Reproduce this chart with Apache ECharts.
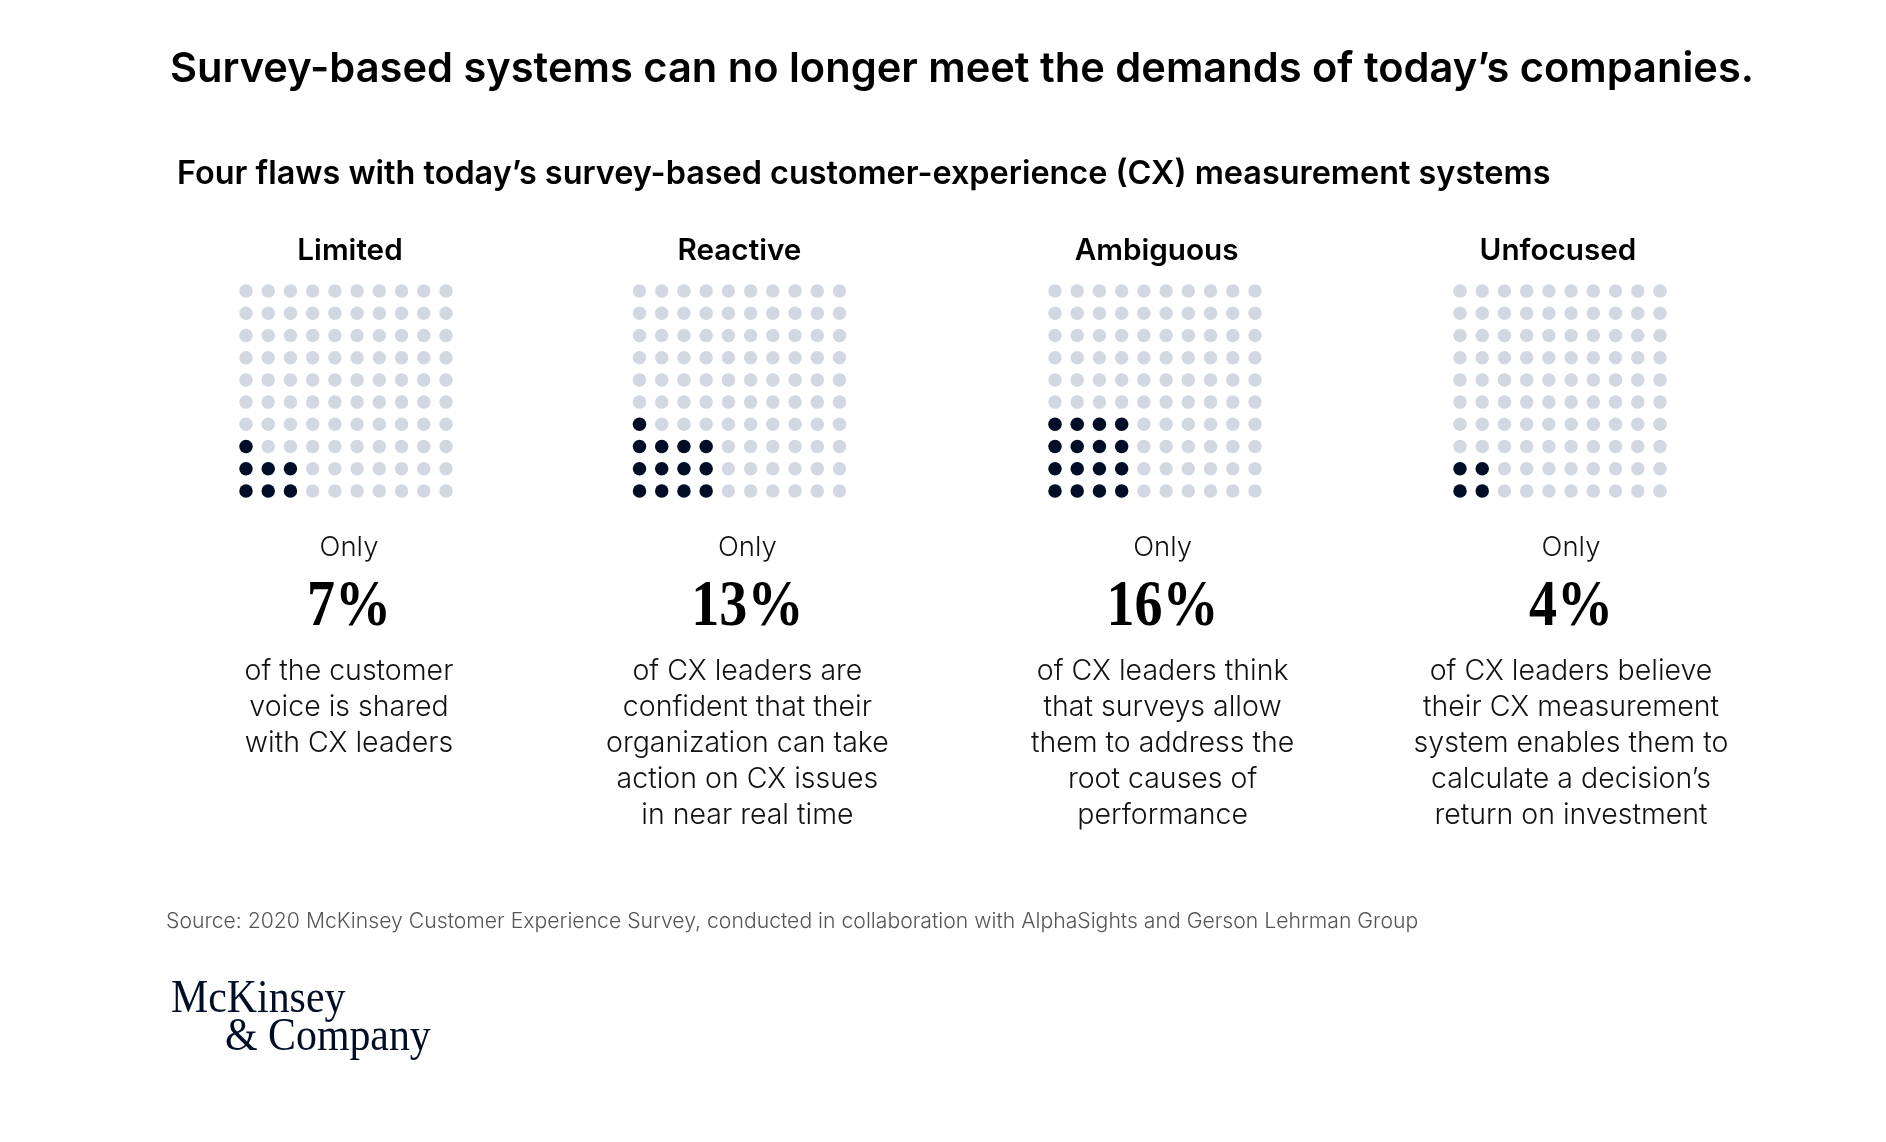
<!DOCTYPE html>
<html>
<head>
<meta charset="utf-8">
<title>Four flaws with survey-based CX measurement systems</title>
<style>
  html, body { margin: 0; padding: 0; background: #fff; }
  #chart { width: 1886px; height: 1142px; }
</style>
<script src="https://cdn.jsdelivr.net/npm/echarts@6/dist/echarts.min.js"></script>
</head>
<body>
<div id="chart"></div>
<script>
var flaws = ['Limited', 'Reactive', 'Ambiguous', 'Unfocused'];
var shares = ['7%', '13%', '16%', '4%'];
// filled dots per column, left to right, counted from the bottom row
var filledColumns = [[3, 2, 2], [4, 3, 3, 3], [4, 4, 4, 4], [2, 2]];
var notes = [
  'of the customer\nvoice is shared\nwith CX leaders',
  'of CX leaders are\nconfident that their\norganization can take\naction on CX issues\nin near real time',
  'of CX leaders think\nthat surveys allow\nthem to address the\nroot causes of\nperformance',
  'of CX leaders believe\ntheir CX measurement\nsystem enables them to\ncalculate a decision\u2019s\nreturn on investment'
];
var gridSteps = [1, 2, 3, 4, 5, 6, 7, 8, 9, 10];

var navy = '#000d26';
var pale = '#d2d8e2';
var sans = 'Inter';
var serif = 'Liberation Serif';

var grids = [], xAxes = [], yAxes = [], series = [], labels = [];
var gridLeft = [246, 639.5, 1055, 1460];
var labelCenter = [349, 747.4, 1162.6, 1571];
var nameCenter = [350, 739.4, 1156.6, 1558];

function text(str, x, y, size, weight, color, opts) {
  opts = opts || {};
  labels.push({
    type: 'text',
    x: x,
    y: y,
    scaleX: opts.squeeze || 1,
    silent: true,
    style: {
      text: str,
      fill: color,
      fontFamily: opts.family || sans,
      fontSize: size,
      fontWeight: weight,
      lineHeight: opts.lineHeight || size * 1.2,
      align: opts.align || 'left',
      verticalAlign: 'top'
    }
  });
}

text('Survey-based systems can no longer meet the demands of today\u2019s companies.', 170, 45, 41.6, 600, '#000');
text('Four flaws with today\u2019s survey-based customer-experience (CX) measurement systems', 177, 155, 32.4, 600, '#000');

flaws.forEach(function(name, i) {
  grids.push({ left: gridLeft[i], top: 291, width: 200, height: 200 });
  var axis = { type: 'value', min: 1, max: 10, show: false, gridIndex: i };
  xAxes.push(axis);
  yAxes.push(Object.assign({}, axis));

  var empty = [], filled = [];
  gridSteps.forEach(function(col) {
    gridSteps.forEach(function(row) {
      var h = filledColumns[i][col - 1] || 0;
      (row <= h ? filled : empty).push([col, row]);
    });
  });
  [[empty, pale], [filled, navy]].forEach(function(s) {
    series.push({
      type: 'scatter',
      xAxisIndex: i,
      yAxisIndex: i,
      data: s[0],
      symbolSize: 13.5,
      itemStyle: { color: s[1], opacity: 1 },
      silent: true
    });
  });

  text(name, nameCenter[i], 233, 29.7, 600, '#000', { align: 'center' });
  text('Only', labelCenter[i], 531, 27.5, 300, '#111', { align: 'center' });
  text(shares[i], labelCenter[i], 568, 66, 700, '#000', { align: 'center', family: serif, squeeze: 0.85 });
  text(notes[i], labelCenter[i], 653, 28.5, 300, '#111', { align: 'center', lineHeight: 36 });
});

text('Source: 2020 McKinsey Customer Experience Survey, conducted in collaboration with AlphaSights and Gerson Lehrman Group', 166, 909, 21.2, 300, '#555');
text('McKinsey', 171, 972, 46, 400, navy, { family: serif, squeeze: 0.91 });
text('& Company', 225, 1010, 46, 400, navy, { family: serif, squeeze: 0.91 });

var chart = echarts.init(document.getElementById('chart'), null, { renderer: 'canvas' });
chart.setOption({
  animation: false,
  backgroundColor: '#fff',
  graphic: labels,
  grid: grids,
  xAxis: xAxes,
  yAxis: yAxes,
  tooltip: { show: false },
  series: series
});
</script>
</body>
</html>
